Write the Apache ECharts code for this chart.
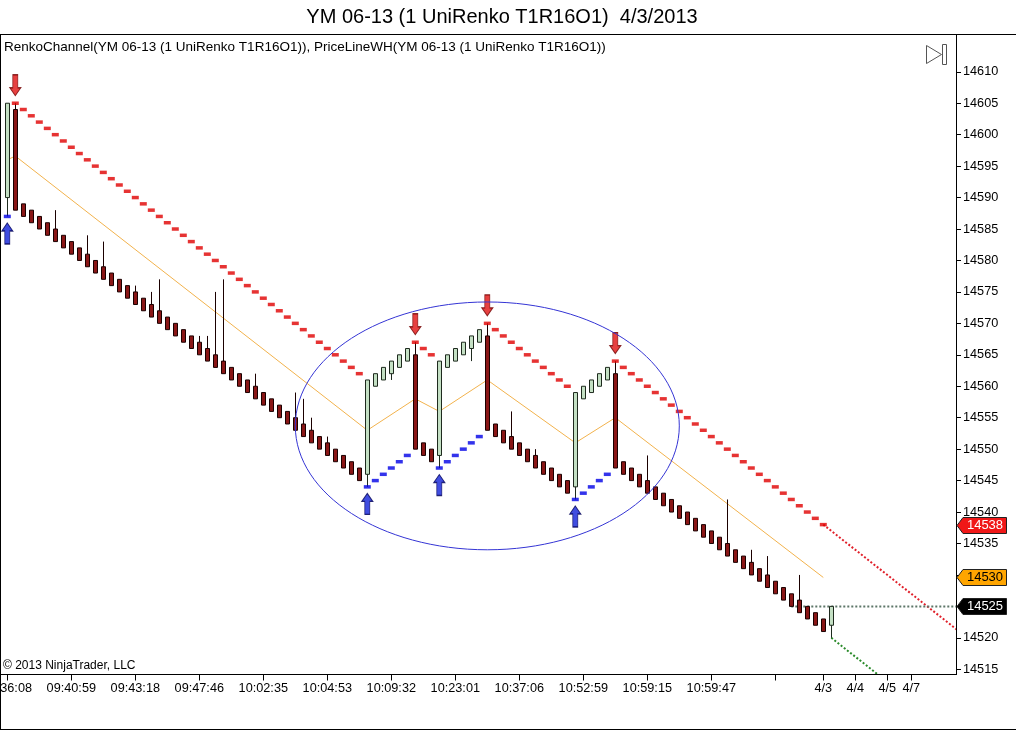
<!DOCTYPE html>
<html><head><meta charset="utf-8">
<script src="https://cdn.jsdelivr.net/npm/echarts@6/dist/echarts.min.js"></script>
<style>html,body{margin:0;padding:0;background:#fff}#c{width:1016px;height:730px}</style>
</head><body><div id="c"></div>
<script>
// ---------- text ----------
const TITLE = 'YM 06-13 (1 UniRenko T1R16O1)  4/3/2013';
const INDICATOR_TEXT = 'RenkoChannel(YM 06-13 (1 UniRenko T1R16O1)), PriceLineWH(YM 06-13 (1 UniRenko T1R16O1))';
const COPYRIGHT = '\u00a9 2013 NinjaTrader, LLC';

// ---------- axes ----------
const SLOT_COUNT = 119;
const TICK_BARS = [0, 8, 16, 24, 32, 40, 48, 56, 64, 72, 80, 88, 96, 102, 106, 110, 113];
const TICK_LABELS = ['09:36:08', '09:40:59', '09:43:18', '09:47:46', '10:02:35', '10:04:53', '10:09:32', '10:23:01',
  '10:37:06', '10:52:59', '10:59:15', '10:59:47', '', '4/3', '4/4', '4/5', '4/7'];
const Y_TICKS = [14515, 14520, 14525, 14530, 14535, 14540, 14545, 14550, 14555, 14560,
  14565, 14570, 14575, 14580, 14585, 14590, 14595, 14600, 14605, 14610];

// ---------- bars (UniRenko) ----------
const OPEN = [14590, 14604,
  14589, 14588, 14587, 14586, 14585, 14584, 14583, 14582,
  14581, 14580, 14579, 14578, 14577, 14576, 14575, 14574, 14573, 14572,
  14571, 14570, 14569, 14568, 14567, 14566, 14565, 14564, 14563, 14562,
  14561, 14560, 14559, 14558, 14557, 14556, 14555, 14554, 14553, 14552,
  14551, 14550, 14549, 14548, 14547,
  14546,
  14560, 14561, 14562, 14563, 14564,
  14565, 14551, 14550,
  14549,
  14563, 14564, 14565, 14566, 14567,
  14568,
  14554, 14553, 14552, 14551, 14550, 14549, 14548, 14547, 14546, 14545,
  14544,
  14558, 14559, 14560, 14561,
  14562,
  14548, 14547, 14546,
  14545, 14544, 14543, 14542, 14541, 14540, 14539, 14538, 14537, 14536,
  14535, 14534, 14533, 14532, 14531, 14530, 14529, 14528, 14527, 14526,
  14525, 14524, 14523, 14522];
const CLOSE = [14605, 14588,
  14587, 14586, 14585, 14584, 14583, 14582, 14581, 14580,
  14579, 14578, 14577, 14576, 14575, 14574, 14573, 14572, 14571, 14570,
  14569, 14568, 14567, 14566, 14565, 14564, 14563, 14562, 14561, 14560,
  14559, 14558, 14557, 14556, 14555, 14554, 14553, 14552, 14551, 14550,
  14549, 14548, 14547, 14546, 14545,
  14561,
  14562, 14563, 14564, 14565, 14566,
  14550, 14549, 14548,
  14564,
  14565, 14566, 14567, 14568, 14569,
  14553,
  14552, 14551, 14550, 14549, 14548, 14547, 14546, 14545, 14544, 14543,
  14559,
  14560, 14561, 14562, 14563,
  14547,
  14546, 14545, 14544,
  14543, 14542, 14541, 14540, 14539, 14538, 14537, 14536, 14535, 14534,
  14533, 14532, 14531, 14530, 14529, 14528, 14527, 14526, 14525, 14524,
  14523, 14522, 14521, 14525];
const HIGH = [14605, 14605,
  14589, 14588, 14587, 14586, 14588, 14584, 14583, 14582,
  14584, 14580, 14583, 14578, 14577, 14576, 14576, 14574, 14575, 14577,
  14571, 14570, 14569, 14568, 14568, 14568, 14575, 14577, 14563, 14562,
  14561, 14562, 14559, 14558, 14557, 14556, 14559, 14558, 14555, 14552,
  14552, 14550, 14549, 14548, 14547,
  14561,
  14562, 14563, 14564, 14565, 14566,
  14567, 14551, 14550,
  14564,
  14565, 14566, 14567, 14568, 14569,
  14570,
  14554, 14553, 14556, 14551, 14550, 14550, 14548, 14547, 14546, 14545,
  14559,
  14560, 14561, 14562, 14563,
  14564,
  14548, 14547, 14546,
  14549, 14544, 14543, 14542, 14541, 14540, 14539, 14538, 14537, 14536,
  14542, 14534, 14533, 14534, 14531, 14533, 14529, 14528, 14527, 14530,
  14525, 14524, 14523, 14525];
const LOW = [14587, 14588,
  14587, 14586, 14585, 14584, 14583, 14582, 14581, 14580,
  14579, 14578, 14577, 14576, 14575, 14574, 14573, 14572, 14571, 14570,
  14569, 14568, 14567, 14566, 14565, 14564, 14563, 14562, 14561, 14560,
  14559, 14558, 14557, 14556, 14555, 14554, 14553, 14552, 14551, 14550,
  14549, 14548, 14547, 14546, 14545,
  14544,
  14560, 14561, 14561, 14563, 14564,
  14550, 14549, 14548,
  14547,
  14563, 14564, 14565, 14564, 14567,
  14553,
  14552, 14551, 14550, 14549, 14548, 14547, 14546, 14545, 14544, 14543,
  14542,
  14558, 14559, 14560, 14561,
  14547,
  14546, 14545, 14544,
  14543, 14542, 14541, 14540, 14539, 14538, 14537, 14536, 14535, 14534,
  14533, 14532, 14531, 14530, 14529, 14528, 14527, 14526, 14525, 14524,
  14523, 14522, 14521, 14520];

// ---------- RenkoChannel ----------
const UPPER = [null,
  14605, 14604, 14603, 14602, 14601, 14600, 14599, 14598,
  14597, 14596, 14595, 14594, 14593, 14592, 14591, 14590, 14589, 14588,
  14587, 14586, 14585, 14584, 14583, 14582, 14581, 14580, 14579, 14578,
  14577, 14576, 14575, 14574, 14573, 14572, 14571, 14570, 14569, 14568,
  14567, 14566, 14565, 14564, 14563, 14562,
  null, null, null, null, null, null,
  14567, 14566, 14565,
  null, null, null, null, null, null,
  14570, 14569, 14568, 14567, 14566, 14565, 14564, 14563, 14562, 14561, 14560,
  null, null, null, null, null,
  14564, 14563, 14562, 14561, 14560, 14559, 14558, 14557, 14556, 14555,
  14554, 14553, 14552, 14551, 14550, 14549, 14548, 14547, 14546, 14545,
  14544, 14543, 14542, 14541, 14540, 14539, 14538,
  null];
const LOWER = [14587,
  null, null, null, null, null, null, null, null, null, null,
  null, null, null, null, null, null, null, null, null, null,
  null, null, null, null, null, null, null, null, null, null,
  null, null, null, null, null, null, null, null, null, null,
  null, null, null, null,
  14544, 14545, 14546, 14547, 14548, 14549,
  null, null, null,
  14547, 14548, 14549, 14550, 14551, 14552,
  null, null, null, null, null, null, null, null, null, null, null,
  14542, 14543, 14544, 14545, 14546,
  null, null, null, null, null, null, null, null, null, null,
  null, null, null, null, null, null, null, null, null, null,
  null, null, null, null, null, null, null, null];
const UPPER_PROJECTION = [[102, 14538], [119, 14521]];
const LOWER_PROJECTION = [[103, 14520], [110, 14513]];
const LAST_PRICE = [[98, 14525], [119, 14525]];

// ---------- PriceLineWH ----------
const PRICE_LINE = [[0, 14596], [1, 14596.6], [45, 14553], [51, 14558], [54, 14556],
  [60, 14561], [71, 14551], [76, 14555], [102, 14529.6]];

// ---------- reversal arrows ----------
const DOWN_ARROWS = [[1, 14605], [51, 14567], [60, 14570], [76, 14564]];
const UP_ARROWS = [[0, 14587], [45, 14544], [54, 14547], [71, 14542]];

// ---------- drawn ellipse (data anchors) ----------
const ELLIPSE_BARS = [36, 84];
const ELLIPSE_VALUES = [14573.4, 14534];

// ---------- layout ----------
const Y_MIN = 14514.25, Y_MAX = 14615.37;
const FONT = '"Liberation Sans", Arial, Helvetica, sans-serif';

const chart = echarts.init(document.getElementById('c'), null, {renderer: 'canvas', width: 1016, height: 730});
const cats = [];
for (let i = 0; i < SLOT_COUNT; i++) {
  const k = TICK_BARS.indexOf(i);
  cats.push(k >= 0 ? TICK_LABELS[k] : '');
}
const tickSet = new Set(TICK_BARS);
const candles = OPEN.map((o, i) => [o, CLOSE[i], LOW[i], HIGH[i]]);
const gap = arr => arr.map(v => (v == null ? '-' : v));

chart.setOption({
  animation: false,
  grid: {left: 3.3, top: 38, width: 952, height: 636, containLabel: false, outerBoundsMode: 'none'},
  xAxis: {
    type: 'category', data: cats, boundaryGap: true,
    axisLine: {lineStyle: {color: '#000', width: 1}},
    axisTick: {show: false},
    axisLabel: {interval: (i) => tickSet.has(i), color: '#000', fontSize: 12.7, fontFamily: FONT, margin: 8, hideOverlap: false},
    splitLine: {show: false}
  },
  yAxis: {
    type: 'value', position: 'right', offset: 0.7, min: Y_MIN, max: Y_MAX,
    axisLine: {show: true, lineStyle: {color: '#000'}},
    axisTick: {show: true, length: 5, customValues: Y_TICKS, lineStyle: {color: '#000'}},
    axisLabel: {customValues: Y_TICKS, formatter: (v) => String(Math.round(v)), color: '#000', fontSize: 12.7, fontFamily: FONT, margin: 7},
    splitLine: {show: false}
  },
  series: [
    {type: 'line', name: 'PriceLineWH', data: PRICE_LINE, showSymbol: false, silent: true, z: 2,
      lineStyle: {color: '#f2b24c', width: 1}},
    {type: 'line', name: 'upperProj', data: UPPER_PROJECTION, showSymbol: false, silent: true, z: 2,
      lineStyle: {color: '#e0202a', width: 2, type: [2, 2]}},
    {type: 'line', name: 'lowerProj', data: LOWER_PROJECTION, showSymbol: false, silent: true, z: 2,
      lineStyle: {color: '#2a8a2a', width: 2, type: [2, 2]}},
    {type: 'line', name: 'lastPrice', data: LAST_PRICE, showSymbol: false, silent: true, z: 2,
      lineStyle: {color: '#5c7668', width: 2, type: [2, 2]}},
    {type: 'candlestick', name: 'bars', data: candles, barWidth: 4, silent: true, z: 3,
      itemStyle: {color: '#c4e0c4', color0: '#8a1616', borderColor: '#1e2a1e', borderColor0: '#1a0000', borderWidth: 1}},
    {type: 'scatter', name: 'upper', data: gap(UPPER), symbol: 'rect', symbolSize: [7, 3.5], silent: true, z: 4,
      itemStyle: {color: '#e00000'}},
    {type: 'scatter', name: 'lower', data: gap(LOWER), symbol: 'rect', symbolSize: [7, 3.5], silent: true, z: 4,
      itemStyle: {color: '#0000e6'}},
    {type: 'scatter', name: 'downArrows', data: DOWN_ARROWS, silent: true, z: 5,
      symbol: 'path://M3,0L8,0L8,13L11,13L5.5,21L0,13L3,13Z', symbolSize: [11, 21], symbolOffset: [0, -18],
      itemStyle: {color: '#e01010', borderColor: '#700000', borderWidth: 1}},
    {type: 'scatter', name: 'upArrows', data: UP_ARROWS, silent: true, z: 5,
      symbol: 'path://M5.5,0L11,8L8,8L8,21L3,21L3,8L0,8Z', symbolSize: [11, 21], symbolOffset: [0, 17],
      itemStyle: {color: '#1020d8', borderColor: '#000058', borderWidth: 1}}
  ]
});

function px(x, y) { return chart.convertToPixel({gridIndex: 0}, [x, y]); }
const e0 = px(ELLIPSE_BARS[0], ELLIPSE_VALUES[0]);
const e1 = px(ELLIPSE_BARS[1], ELLIPSE_VALUES[1]);
const AX = 956;
const AXIS_Y = 674.5;
function marker(value, fill, textColor, label) {
  const yc = Math.round(px(0, value)[1]) + 0.5;
  return [
    {type: 'polygon', z: 100, shape: {points: [[AX + 1, yc], [AX + 7, yc - 8], [1006.5, yc - 8], [1006.5, yc + 8], [AX + 7, yc + 8]]},
      style: {fill: fill, stroke: '#222', lineWidth: 1}},
    {type: 'text', z: 101, style: {text: label, x: 985, y: yc, font: '13px ' + FONT, fill: textColor,
      textAlign: 'center', textVerticalAlign: 'middle', align: 'center', verticalAlign: 'middle'}}
  ];
}
const lastUpper = UPPER_PROJECTION[0][1];
const lastPL = PRICE_LINE[PRICE_LINE.length - 1][1];
const lastClose = CLOSE[CLOSE.length - 1];

// x-axis tick marks at the labelled bars (positions from the axis scale)
const tickMarks = TICK_BARS.map(b => {
  const x = Math.round(px(b, Y_MIN)[0]) + 0.5;
  return {type: 'polyline', z: 100, shape: {points: [[x, AXIS_Y], [x, AXIS_Y + 6]]}, style: {stroke: '#000', lineWidth: 1}};
});

const graphics = [
  {type: 'text', z: 100, style: {text: TITLE, x: 502, y: 17, font: '20px ' + FONT, fill: '#000',
    textAlign: 'center', textVerticalAlign: 'middle', align: 'center', verticalAlign: 'middle'}},
  {type: 'text', z: 100, style: {text: INDICATOR_TEXT, x: 4, y: 47, font: '13.5px ' + FONT, fill: '#000',
    textAlign: 'left', textVerticalAlign: 'middle', align: 'left', verticalAlign: 'middle'}},
  {type: 'text', z: 100, style: {text: COPYRIGHT, x: 3, y: 666, font: '12px ' + FONT, fill: '#000',
    textAlign: 'left', textVerticalAlign: 'middle', align: 'left', verticalAlign: 'middle'}},
  {type: 'polyline', z: 100, shape: {points: [[0, 34.5], [1016, 34.5]]}, style: {stroke: '#000', lineWidth: 1}},
  {type: 'polyline', z: 100, shape: {points: [[0.5, 34], [0.5, 730]]}, style: {stroke: '#000', lineWidth: 1}},
  {type: 'polyline', z: 100, shape: {points: [[0, 729.5], [1016, 729.5]]}, style: {stroke: '#000', lineWidth: 1}},
  {type: 'polyline', z: 100, shape: {points: [[0, AXIS_Y], [956, AXIS_Y]]}, style: {stroke: '#000', lineWidth: 1}},
  {type: 'polyline', z: 100, shape: {points: [[956.5, 34], [956.5, 675]]}, style: {stroke: '#000', lineWidth: 1}},
  {type: 'polygon', z: 100, shape: {points: [[926.5, 45.5], [941.5, 54.5], [926.5, 63.5]]}, style: {fill: null, stroke: '#555', lineWidth: 1}},
  {type: 'rect', z: 100, shape: {x: 942.5, y: 44.5, width: 4, height: 20}, style: {fill: null, stroke: '#555', lineWidth: 1}},
  {type: 'ellipse', z: 60, shape: {cx: (e0[0] + e1[0]) / 2, cy: (e0[1] + e1[1]) / 2,
    rx: Math.abs(e1[0] - e0[0]) / 2, ry: Math.abs(e1[1] - e0[1]) / 2},
    style: {fill: null, stroke: '#3434d4', lineWidth: 1}}
].concat(
  tickMarks,
  marker(lastUpper, '#f01818', '#fff', String(Math.round(lastUpper))),
  marker(lastPL, '#ffa500', '#000', String(Math.round(lastPL))),
  marker(lastClose, '#000', '#fff', String(Math.round(lastClose)))
);
chart.setOption({graphic: graphics});
</script>
</body></html>
